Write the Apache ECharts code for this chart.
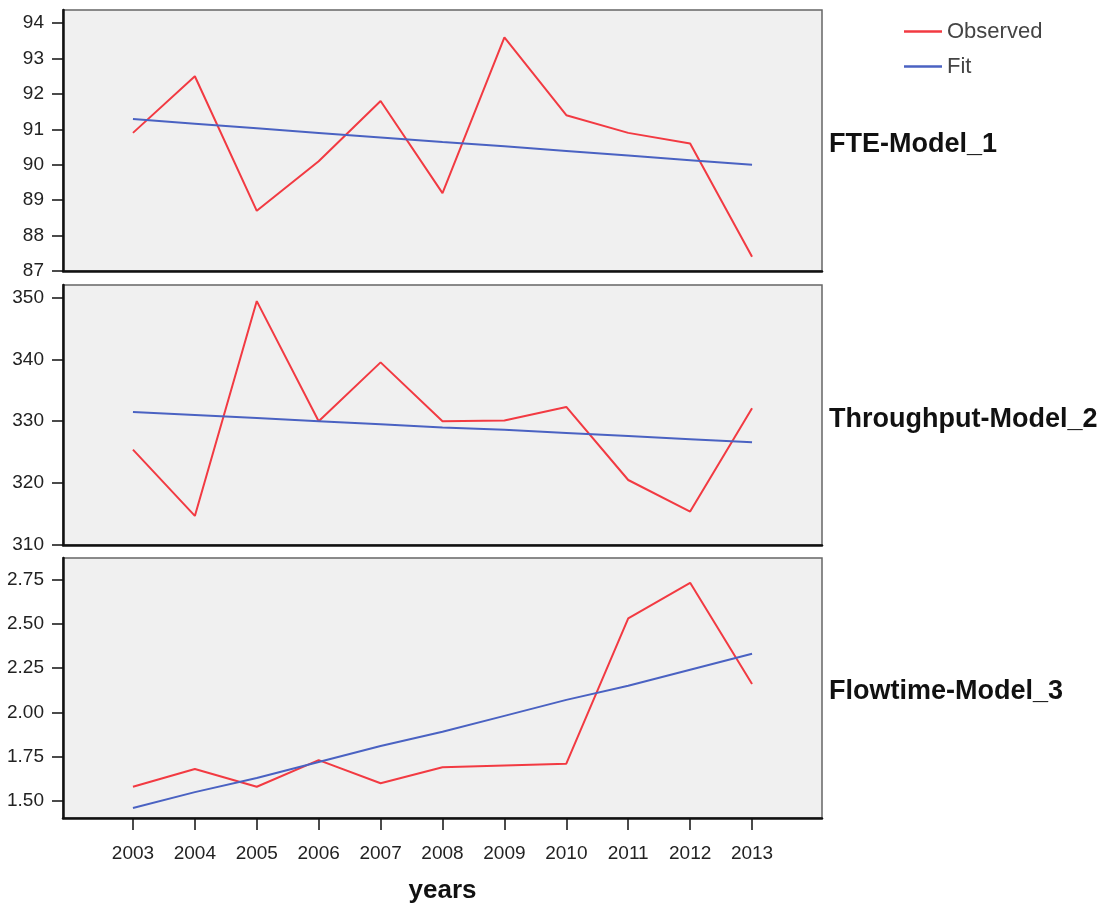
<!DOCTYPE html>
<html>
<head>
<meta charset="utf-8">
<script src="https://cdn.jsdelivr.net/npm/echarts@6/dist/echarts.min.js"></script>
<style>
  html, body { margin: 0; padding: 0; background: #fff; }
  #chart { width: 1104px; height: 907px; }
</style>
</head>
<body>
<div id="chart"></div>
<script>
const years = [2003, 2004, 2005, 2006, 2007, 2008, 2009, 2010, 2011, 2012, 2013];

const fteObserved = [90.9, 92.5, 88.7, 90.1, 91.8, 89.2, 93.6, 91.4, 90.9, 90.6, 87.4];
const fteFit = [91.29, 91.16, 91.03, 90.9, 90.77, 90.64, 90.52, 90.39, 90.26, 90.13, 90.0];

const throughputObserved = [325.4, 314.7, 349.4, 330.0, 339.5, 330.0, 330.1, 332.3, 320.5, 315.4, 332.1];
const throughputFit = [331.5, 331.0, 330.5, 330.0, 329.5, 329.0, 328.6, 328.1, 327.6, 327.1, 326.6];

const flowtimeObserved = [1.58, 1.68, 1.58, 1.73, 1.60, 1.69, 1.70, 1.71, 2.53, 2.73, 2.16];
const flowtimeFit = [1.46, 1.55, 1.63, 1.72, 1.81, 1.89, 1.98, 2.07, 2.15, 2.24, 2.33];

const fteTicks = [87, 88, 89, 90, 91, 92, 93, 94];
const throughputTicks = [310, 320, 330, 340, 350];
const flowtimeTicks = [1.5, 1.75, 2.0, 2.25, 2.5, 2.75];

const panelNames = ['FTE-Model_1', 'Throughput-Model_2', 'Flowtime-Model_3'];

const chart = echarts.init(document.getElementById('chart'));

const font = 'Liberation Sans, Arial, sans-serif';
const red = '#f23a42';
const blue = '#4a62c2';

const grids = [
  { left: 63, right: 282, top: 10, height: 261 },
  { left: 63, right: 282, top: 285, height: 260 },
  { left: 63, right: 282, top: 558, height: 260 }
].map(g => ({
  ...g,
  show: true,
  outerBoundsMode: 'none',
  containLabel: false,
  backgroundColor: '#f0f0f0',
  borderColor: '#666',
  borderWidth: 1.5
}));

const xAxes = [0, 1, 2].map(i => ({
  type: 'value',
  gridIndex: i,
  min: 2001.87,
  max: 2014.13,
  splitLine: { show: false },
  axisLine: { show: true, lineStyle: { color: '#111', width: 2.5 } },
  axisTick: {
    show: i === 2,
    customValues: years,
    length: 12,
    lineStyle: { color: '#111', width: 1.5 }
  },
  axisLabel: {
    show: i === 2,
    customValues: years,
    margin: 26,
    fontSize: 19,
    fontFamily: font,
    color: '#222',
    formatter: v => String(v)
  },
  name: i === 2 ? 'years' : '',
  nameLocation: 'middle',
  nameGap: 60,
  nameTextStyle: { fontSize: 26, fontWeight: 'bold', fontFamily: font, color: '#111' }
}));

const yAxis = (i, min, max, ticks, digits) => ({
  type: 'value',
  gridIndex: i,
  min: min,
  max: max,
  splitLine: { show: false },
  axisLine: { show: true, lineStyle: { color: '#111', width: 2.5 } },
  axisTick: {
    show: true,
    customValues: ticks,
    length: 11,
    lineStyle: { color: '#111', width: 1.5 }
  },
  axisLabel: {
    customValues: ticks,
    margin: 19,
    fontSize: 19,
    fontFamily: font,
    color: '#222',
    formatter: v => v.toFixed(digits)
  }
});

const pair = (v) => years.map((y, k) => [y, v[k]]);

const line = (name, data, i, color) => ({
  name: name,
  type: 'line',
  xAxisIndex: i,
  yAxisIndex: i,
  data: pair(data),
  symbol: 'none',
  lineStyle: { color: color, width: 2 },
  itemStyle: { color: color },
  emphasis: { disabled: true },
  animation: false
});

const option = {
  backgroundColor: '#fff',
  animation: false,
  grid: grids,
  xAxis: xAxes,
  yAxis: [
    yAxis(0, 87, 94.37, fteTicks, 0),
    yAxis(1, 310, 352, throughputTicks, 0),
    yAxis(2, 1.404, 2.87, flowtimeTicks, 2)
  ],
  legend: {
    data: ['Observed', 'Fit'],
    orient: 'vertical',
    left: 899,
    top: 14,
    icon: 'rect',
    itemWidth: 38,
    itemHeight: 2.5,
    itemGap: 10,
    textStyle: { fontSize: 22, fontFamily: font, color: '#444', lineHeight: 25 }
  },
  title: panelNames.map((t, i) => ({
    text: t,
    left: 824,
    top: [126, 401, 673][i],
    textStyle: { fontSize: 27, fontWeight: 'bold', fontFamily: font, color: '#111' }
  })),
  series: [
    line('Observed', fteObserved, 0, red),
    line('Fit', fteFit, 0, blue),
    line('Observed', throughputObserved, 1, red),
    line('Fit', throughputFit, 1, blue),
    line('Observed', flowtimeObserved, 2, red),
    line('Fit', flowtimeFit, 2, blue)
  ]
};

chart.setOption(option);
</script>
</body>
</html>
